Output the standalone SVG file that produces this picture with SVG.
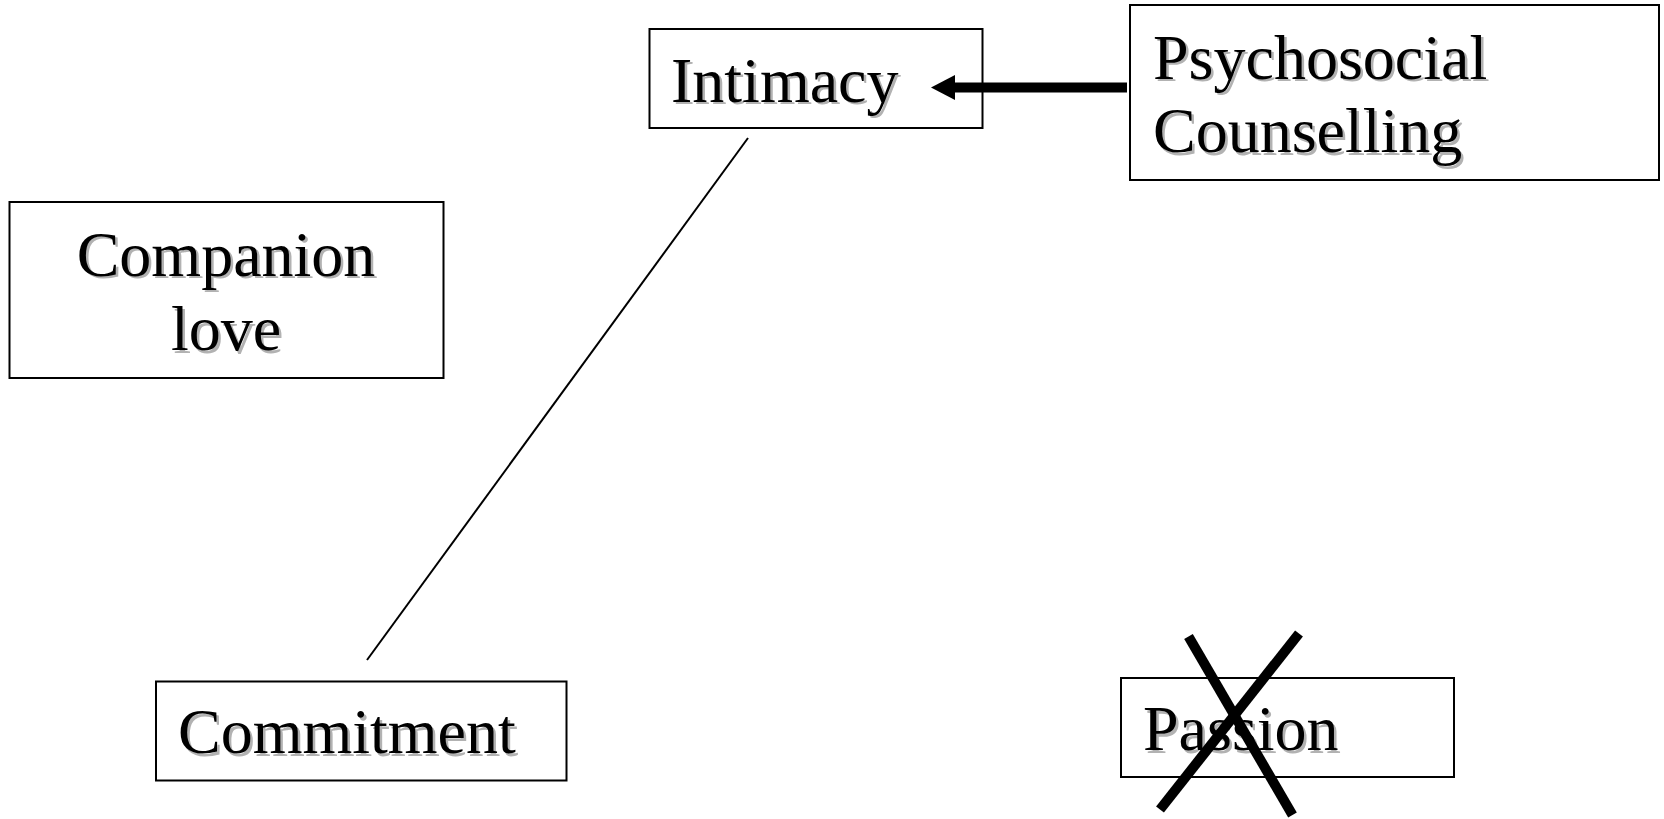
<svg xmlns="http://www.w3.org/2000/svg" width="1664" height="819" viewBox="0 0 1664 819">
  <style>
    .box { fill: #ffffff; stroke: #000000; stroke-width: 2; }
    .lbl { font-family: "Liberation Serif", "Times New Roman", serif; font-size: 64px; fill: #000000; }
    .shadow { fill: #b2b2b2; }
    .thin { stroke: #000000; stroke-width: 2; fill: none; }
    .thick { stroke: #000000; stroke-width: 10; fill: none; }
  </style>
  <defs>
    <!-- filled arrowhead; base sits at the line end, tip extends forward -->
    <marker id="head" markerWidth="24" markerHeight="25" refX="0" refY="12.5" orient="auto" markerUnits="userSpaceOnUse">
      <path d="M0,0 L24,12.5 L0,25 Z" fill="#000000"/>
    </marker>
  </defs>
  <rect width="1664" height="819" fill="#ffffff"/>

  <g id="node-intimacy">
    <rect class="box" x="649.5" y="29" width="333" height="99"/>
    <text class="lbl shadow" x="673.5" y="104">Intimacy</text>
    <text class="lbl" x="671" y="101.5">Intimacy</text>
  </g>

  <g id="node-psychosocial">
    <rect class="box" x="1130" y="5" width="529" height="175"/>
    <text class="lbl shadow" x="1155.5" y="81">Psychosocial</text>
    <text class="lbl shadow" x="1155.5" y="154.5">Counselling</text>
    <text class="lbl" x="1153" y="78.5">Psychosocial</text>
    <text class="lbl" x="1153" y="152">Counselling</text>
  </g>

  <g id="node-companion">
    <rect class="box" x="9.5" y="202" width="434" height="176"/>
    <text class="lbl shadow" x="228.5" y="278" text-anchor="middle">Companion</text>
    <text class="lbl shadow" x="228.5" y="352.5" text-anchor="middle">love</text>
    <text class="lbl" x="226" y="275.5" text-anchor="middle">Companion</text>
    <text class="lbl" x="226" y="350" text-anchor="middle">love</text>
  </g>

  <g id="node-commitment">
    <rect class="box" x="156" y="681.5" width="410.5" height="99"/>
    <text class="lbl shadow" x="180.5" y="755.5">Commitment</text>
    <text class="lbl" x="178" y="753">Commitment</text>
  </g>

  <g id="node-passion">
    <rect class="box" x="1121" y="678" width="333" height="99"/>
    <text class="lbl shadow" x="1145.5" y="752.5">Passion</text>
    <text class="lbl" x="1143" y="750">Passion</text>
  </g>

  <g id="connectors">
    <line class="thin" x1="748" y1="138" x2="367" y2="660"/>
    <line class="thick" x1="1127" y1="87.5" x2="955" y2="87.5" stroke-width="11" marker-end="url(#head)"/>
    <!-- cross striking out Passion -->
    <line class="thick" x1="1188.5" y1="636.5" x2="1292.5" y2="815"/>
    <line class="thick" x1="1299" y1="633.5" x2="1160" y2="809.5"/>
  </g>
</svg>
